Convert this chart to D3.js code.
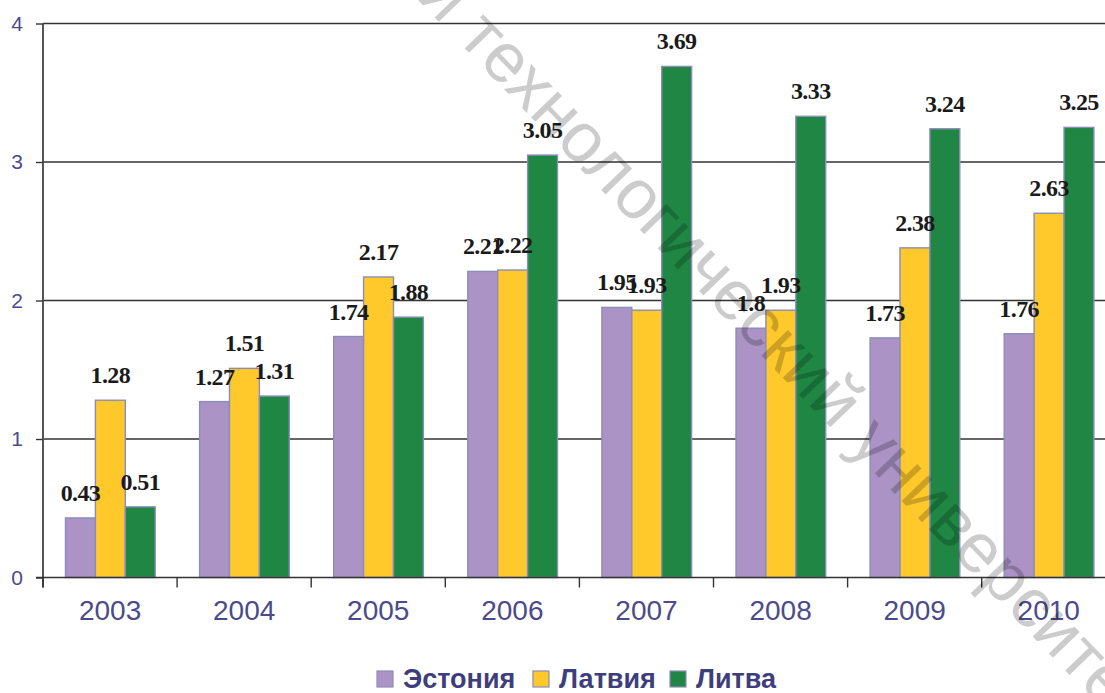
<!DOCTYPE html>
<html>
<head>
<meta charset="utf-8">
<script src="https://cdn.jsdelivr.net/npm/d3@7"></script>
<style>
  body { margin: 0; background: #fff; }
  svg { display: block; }
</style>
</head>
<body>
<div id="chart"></div>
<script>
// chart data
var years = ["2003", "2004", "2005", "2006", "2007", "2008", "2009", "2010"];
var countries = ["Эстония", "Латвия", "Литва"];
var estonia = [0.43, 1.27, 1.74, 2.21, 1.95, 1.8, 1.73, 1.76];
var latvia = [1.28, 1.51, 2.17, 2.22, 1.93, 1.93, 2.38, 2.63];
var lithuania = [0.51, 1.31, 1.88, 3.05, 3.69, 3.33, 3.24, 3.25];
var yTicks = [0, 1, 2, 3, 4];
var watermark = "й технологический университет";

function init() {
    var w = 1105;
    var h = 693;
    var left = 43;
    var colors = ["#ab93c6", "#ffc92b", "#1f8743"];
    var series = [estonia, latvia, lithuania];

    var rows = years.map(function(y, i) {
        return { year: y, values: series.map(function(s, j) { return { key: countries[j], v: s[i], j: j }; }) };
    });

    var xScale = d3.scaleBand()
        .domain(years)
        .range([left, left + 8 * 134.1]);

    var xSub = d3.scaleBand()
        .domain(countries)
        .range([22.5, 112.2]);

    var yScale = d3.scaleLinear()
        .domain([0, 4])
        .range([577.5, 23.5]);

    var svg = d3.select("#chart")
        .append("svg")
        .attr("width", w)
        .attr("height", h);

    // gridlines
    svg.append("g")
        .selectAll("line")
        .data(yTicks.filter(function(d) { return d > 0; }))
        .enter()
        .append("line")
        .attr("x1", left)
        .attr("x2", w)
        .attr("y1", function(d) { return yScale(d); })
        .attr("y2", function(d) { return yScale(d); })
        .attr("stroke", "#333")
        .attr("stroke-width", 1.4);

    // bars
    var groups = svg.append("g")
        .selectAll("g")
        .data(rows)
        .enter()
        .append("g")
        .attr("transform", function(d) { return "translate(" + xScale(d.year) + ",0)"; });

    groups.selectAll("rect")
        .data(function(d) { return d.values; })
        .enter()
        .append("rect")
        .attr("x", function(d) { return xSub(d.key); })
        .attr("width", xSub.bandwidth())
        .attr("y", function(d) { return yScale(d.v); })
        .attr("height", function(d) { return yScale(0) - yScale(d.v); })
        .attr("fill", function(d) { return colors[d.j]; })
        .attr("stroke", "#8c8cba")
        .attr("stroke-width", 1.4);

    // value labels
    groups.selectAll("text")
        .data(function(d) { return d.values; })
        .enter()
        .append("text")
        .attr("x", function(d) { return xSub(d.key) + xSub.bandwidth() / 2; })
        .attr("y", function(d) { return yScale(d.v) - 17; })
        .attr("text-anchor", "middle")
        .attr("fill", "#1a1a1a")
        .style("font-family", "'Liberation Serif', 'Times New Roman', serif")
        .style("font-weight", "bold")
        .style("font-size", "24px")
        .style("letter-spacing", "-0.6px")
        .text(function(d) { return d.v; });

    // y axis
    var yAxis = d3.axisLeft(yScale)
        .tickValues(yTicks)
        .tickSize(7)
        .tickPadding(13)
        .tickFormat(d3.format("d"));
    var yg = svg.append("g")
        .attr("transform", "translate(" + left + ",0)")
        .call(yAxis);
    yg.select(".domain").attr("stroke", "#555").attr("stroke-width", 2)
        .attr("d", "M0," + yScale(4) + "V" + (yScale(0) + 10));
    yg.selectAll(".tick line").attr("stroke", "#333").attr("stroke-width", 1.4);
    yg.selectAll("text")
        .attr("fill", "#4b4b8c")
        .style("font-family", "'Liberation Sans', Arial, sans-serif")
        .style("font-size", "21px");

    // x axis
    var xAxis = d3.axisBottom(xScale).tickSize(0).tickPadding(23);
    var xg = svg.append("g")
        .attr("transform", "translate(0," + yScale(0) + ")")
        .call(xAxis);
    xg.select(".domain").attr("stroke", "#333").attr("stroke-width", 1.6)
        .attr("d", "M" + (left - 7) + ",0H" + w);
    xg.selectAll("text")
        .attr("fill", "#4b4b8c")
        .style("font-family", "'Liberation Sans', Arial, sans-serif")
        .style("font-size", "28px");
    xg.selectAll(".sep")
        .data(years)
        .enter()
        .append("line")
        .attr("class", "sep")
        .attr("x1", function(d) { return xScale(d); })
        .attr("x2", function(d) { return xScale(d); })
        .attr("y1", 0)
        .attr("y2", 10)
        .attr("stroke", "#333")
        .attr("stroke-width", 1.4);

    // legend
    var legend = svg.append("g")
        .attr("transform", "translate(377,688)");
    var offsets = [0, 156, 293];
    countries.forEach(function(c, i) {
        var item = legend.append("g").attr("transform", "translate(" + offsets[i] + ",0)");
        item.append("rect")
            .attr("x", 0)
            .attr("y", -17)
            .attr("width", 16)
            .attr("height", 16)
            .attr("fill", colors[i])
            .attr("stroke", "#8c8cba")
            .attr("stroke-width", 1.2);
        item.append("text")
            .attr("x", 26)
            .attr("y", 0)
            .attr("fill", "#3e3e7c")
            .style("font-family", "'Liberation Sans', Arial, sans-serif")
            .style("font-weight", "bold")
            .style("font-size", "27px")
            .text(c);
    });

    // watermark
    svg.append("text")
        .attr("transform", "translate(415,-3) rotate(46)")
        .attr("fill", "#000")
        .attr("fill-opacity", 0.2)
        .style("font-family", "'Liberation Sans', Arial, sans-serif")
        .style("font-size", "70px")
        .text(watermark);
}

window.onload = init;
</script>
</body>
</html>
